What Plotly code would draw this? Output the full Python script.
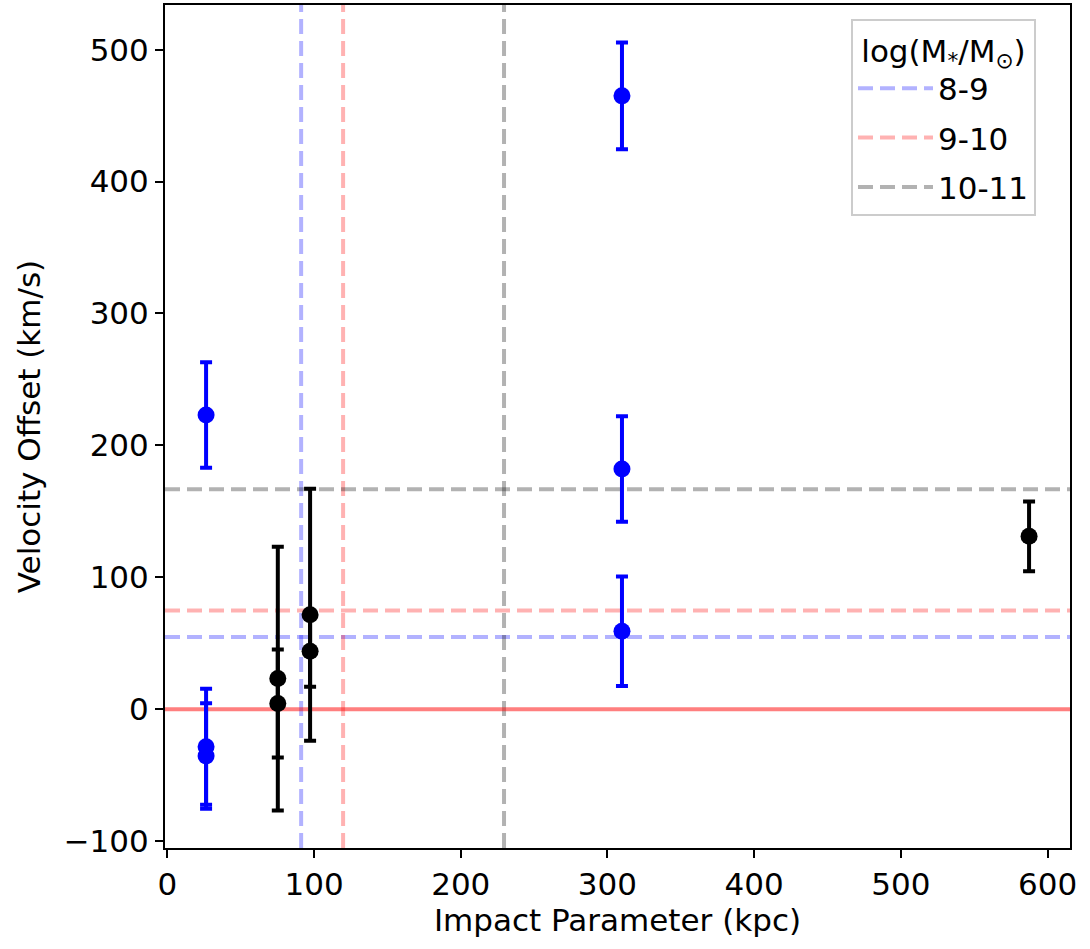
import plotly.graph_objects as go

# ---- data ----
blue_x = [26.4, 26.4, 26.4, 309.9, 309.9, 309.9]
blue_y = [223, -28.5, -35.5, 465, 182, 59]
blue_err = [40, 44, 40, 40.5, 40, 41.5]

black_x = [75.3, 75.3, 97.3, 97.3, 587.4]
black_y = [23.2, 4.3, 71.6, 43.9, 131]
black_err = [100, 41, 95.5, 27, 26.5]

mass_bins = ["8-9", "9-10", "10-11"]
bin_colors = ["rgba(0,0,255,0.3)", "rgba(255,0,0,0.3)", "rgba(0,0,0,0.3)"]
vline_x = [91.2, 119.8, 229.5]
hline_y = [54.7, 74.8, 166.8]

x_range = [-1.6, 615.3]
y_range = [-105.3, 533.9]
x_ticks = [0, 100, 200, 300, 400, 500, 600]
y_ticks = [-100, 0, 100, 200, 300, 400, 500]

FONT = "DejaVu Sans"
FS = 31
DASH = "15px,7px"

fig = go.Figure()

for xv, yv, col, name in zip(vline_x, hline_y, bin_colors, mass_bins):
    fig.add_shape(type="line", xref="x", yref="paper", x0=xv, x1=xv, y0=0, y1=1,
                  line=dict(color=col, width=4, dash=DASH), layer="below")
    fig.add_shape(type="line", xref="paper", yref="y", x0=0, x1=1, y0=yv, y1=yv,
                  line=dict(color=col, width=4, dash=DASH), layer="below")
    fig.add_trace(go.Scatter(x=[None], y=[None], mode="lines", name=name,
                             legendgroup=name,
                             line=dict(color=col, width=4, dash=DASH)))

fig.add_shape(type="line", xref="paper", yref="y", x0=0, x1=1, y0=0, y1=0,
              line=dict(color="rgba(255,0,0,0.5)", width=4), layer="below")

fig.add_trace(go.Scatter(
    x=blue_x, y=blue_y, mode="markers", showlegend=False,
    marker=dict(color="#0000ff", size=17),
    error_y=dict(type="data", array=blue_err, visible=True,
                 color="#0000ff", thickness=4, width=6)))

fig.add_trace(go.Scatter(
    x=black_x, y=black_y, mode="markers", showlegend=False,
    marker=dict(color="#000000", size=17),
    error_y=dict(type="data", array=black_err, visible=True,
                 color="#000000", thickness=4, width=6)))

axis_common = dict(showgrid=False, zeroline=False, showline=True, linecolor="black",
                   linewidth=2, mirror=True, ticks="outside", ticklen=8, tickwidth=2,
                   tickcolor="black", tickfont=dict(family=FONT, size=FS, color="black"))

fig.update_xaxes(range=x_range, tickvals=x_ticks, **axis_common,
                 title=dict(text="Impact Parameter (kpc)",
                            font=dict(family=FONT, size=FS, color="black"), standoff=8))
fig.update_yaxes(range=y_range, tickvals=y_ticks, **axis_common,
                 title=dict(text="Velocity Offset (km/s)",
                            font=dict(family=FONT, size=FS, color="black"), standoff=14))

fig.update_layout(
    width=1090, height=949,
    margin=dict(l=165, r=20, t=3, b=101),
    plot_bgcolor="white", paper_bgcolor="white",
    font=dict(family=FONT, size=FS, color="black"),
    legend=dict(
        x=0.758, y=0.983, xanchor="left", yanchor="top",
        bgcolor="rgba(255,255,255,0.8)", bordercolor="#cccccc", borderwidth=2,
        title=dict(text="log(M<sub>*</sub>/M<sub>⊙</sub>)", side="top center",
                   font=dict(family=FONT, size=FS)),
        font=dict(family=FONT, size=FS),
        tracegroupgap=6,
        itemwidth=75,
    ),
)

fig.write_html("out.html")
